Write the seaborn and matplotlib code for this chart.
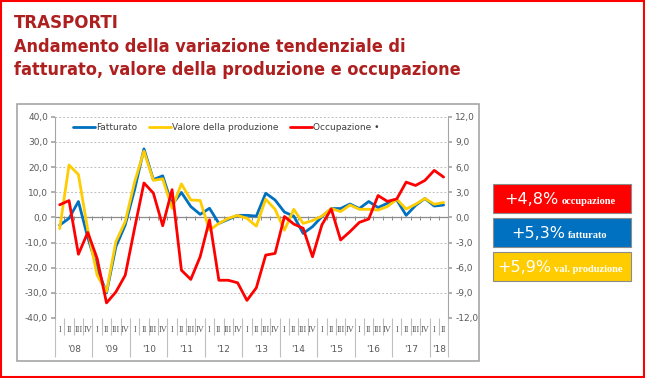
import numpy as np
import pandas as pd
import matplotlib
matplotlib.use("Agg")
import matplotlib.pyplot as plt
from matplotlib.patches import Rectangle
from matplotlib.transforms import blended_transform_factory
import seaborn as sns

# quarterly data, 2008 Q1 - 2018 Q2
years = ["'08", "'09", "'10", "'11", "'12", "'13", "'14", "'15", "'16", "'17", "'18"]
quarters = ["I", "II", "III", "IV"]

fatturato = [-3.1, -0.4, 6.3, -8.0, -20.0, -30.0, -11.7, -3.0, 11.0, 27.2, 15.0, 16.5,
             5.0, 9.9, 4.3, 1.2, 3.6, -2.4, -0.8, 0.8, 0.8, 0.5,
             9.6, 6.9, 2.1, 0.5, -6.4, -3.7, 0.3, 3.5, 3.5, 5.3,
             3.5, 6.3, 3.9, 5.6, 6.9, 0.8, 4.7, 7.5, 4.5, 4.9]
valore_prod = [-4.5, 20.8, 17.0, -5.0, -23.0, -29.5, -9.7, -1.7, 14.0, 26.3, 14.7, 15.3,
               3.6, 13.3, 6.9, 6.7, -5.1, -2.4, -0.4, 0.8, -0.4, -3.5,
               7.2, 3.2, -5.1, 3.2, -2.4, -1.3, 0.5, 3.5, 2.3, 4.9,
               3.2, 3.2, 2.9, 4.3, 7.2, 3.3, 5.2, 7.5, 5.2, 5.9]
occupazione = [1.5, 2.0, -4.4, -1.8, -4.9, -10.2, -8.9, -6.9, -1.3, 4.1, 2.9, -1.0,
               3.3, -6.3, -7.4, -4.7, -0.3, -7.5, -7.5, -7.8, -9.9, -8.4,
               -4.5, -4.3, 0.1, -0.8, -1.3, -4.7, -0.9, 1.0, -2.7, -1.7,
               -0.6, -0.2, 2.6, 1.9, 2.2, 4.2, 3.8, 4.4, 5.6, 4.8]

box_values = ["+4,8%", "+5,3%", "+5,9%"]
box_labels = ["occupazione", "fatturato", "val. produzione"]

n = len(fatturato)
df = pd.DataFrame({
    "idx": np.arange(n),
    "Fatturato": fatturato,
    "Valore della produzione": valore_prod,
    "Occupazione": occupazione,
})

sns.set_theme(style="white")
plt.rcParams["font.family"] = ["DejaVu Sans"]

blue = "#0070C0"
yellow = "#FFCC00"
red = "#FF0000"
grey_txt = "#595959"
title_col = "#AE2020"

fig = plt.figure(figsize=(6.45, 3.78), dpi=100)
ax = fig.add_axes([55 / 645, 60 / 378, 393.3 / 645, 201.3 / 378])
ax2 = ax.twinx()

sns.lineplot(data=df, x="idx", y="Fatturato", ax=ax, color=blue, lw=2.0, label="Fatturato", legend=False)
sns.lineplot(data=df, x="idx", y="Valore della produzione", ax=ax, color=yellow, lw=2.0,
             label="Valore della produzione", legend=False)
sns.lineplot(data=df, x="idx", y="Occupazione", ax=ax2, color=red, lw=2.0,
             label="Occupazione \u2022", legend=False)

ax.set_xlim(-0.5, n - 0.5)
ax.set_ylim(-40, 40)
ax2.set_ylim(-12, 12)
ax.set_xlabel("")
ax.set_ylabel("")
ax2.set_ylabel("")

fmt = lambda v: f"{v:.1f}".replace(".", ",")
lt = np.arange(-40, 41, 10)
ax.set_yticks(lt)
ax.set_yticklabels([fmt(v) for v in lt], fontsize=6.5, color=grey_txt)
rt = np.arange(-12, 13, 3)
ax2.set_yticks(rt)
ax2.set_yticklabels([fmt(v) for v in rt], fontsize=6.5, color=grey_txt)
ax.tick_params(axis="y", length=3, color="#A6A6A6", pad=2, left=True)
ax2.tick_params(axis="y", length=3, color="#A6A6A6", pad=2, right=True)

# gridlines
for v in lt:
    if v != 0:
        ax.axhline(v, color="#BFBFBF", lw=0.7, ls=(0, (2, 2)), zorder=0)
ax.axhline(0, color="#8C8C8C", lw=0.9, zorder=1)
bounds = np.arange(-0.5, n, 1)
ax.vlines(bounds, -1.2, 0.6, color="#8C8C8C", lw=0.7, zorder=1)

for a in (ax, ax2):
    for s in ("top", "bottom", "left", "right"):
        a.spines[s].set_visible(False)
ax.spines["left"].set_visible(True)
ax.spines["left"].set_color("#A6A6A6")
ax.spines["left"].set_linewidth(0.8)
ax2.spines["right"].set_visible(True)
ax2.spines["right"].set_color("#A6A6A6")
ax2.spines["right"].set_linewidth(0.8)

# category axis: quarter separators and year separators
year_bounds = [-0.5] + [3.5 + 4 * k for k in range(len(years) - 1)] + [n - 0.5]
ax.set_xticks(year_bounds)
ax.set_xticklabels([])
ax.set_xticks(bounds, minor=True)
ax.tick_params(axis="x", which="major", length=28, color="#BFBFBF", width=0.8, bottom=True)
ax.tick_params(axis="x", which="minor", length=12, color="#BFBFBF", width=0.8, bottom=True)

trans = blended_transform_factory(ax.transData, ax.transAxes)
for i in range(n):
    ax.text(i, -0.058, quarters[i % 4], transform=trans, ha="center", va="center",
            fontsize=6, color=grey_txt, family=["Liberation Serif", "DejaVu Serif"])
for k, y in enumerate(years):
    lo = year_bounds[k]
    hi = year_bounds[k + 1]
    ax.text((lo + hi) / 2, -0.155, y, transform=trans, ha="center", va="center",
            fontsize=6.5, color=grey_txt)

# legend
h1, l1 = ax.get_legend_handles_labels()
h2, l2 = ax2.get_legend_handles_labels()
leg = ax2.legend(h1 + h2, l1 + l2, loc="upper left", bbox_to_anchor=(0.03, 1.0), ncol=3,
                 frameon=False, fontsize=6.5, handlelength=2.4, handletextpad=0.15,
                 columnspacing=1.3, borderaxespad=0.3)
for t in leg.get_texts():
    t.set_color("#404040")

# title
title_font = dict(fontweight="bold", color=title_col, va="baseline", family="DejaVu Sans",
                  fontstretch="condensed")
fig.text(14 / 645, 1 - 28 / 378, "TRASPORTI", fontsize=13.3, **title_font)
fig.text(14 / 645, 1 - 52 / 378, "Andamento della variazione tendenziale di", fontsize=13,
         **title_font)
fig.text(14 / 645, 1 - 75 / 378, "fatturato, valore della produzione e occupazione", fontsize=13,
         **title_font)

# frames
fig.patches.append(Rectangle((16.5 / 645, 1 - 361 / 378), 462 / 645, 257 / 378,
                             transform=fig.transFigure, fill=False, ec="#A6A6A6", lw=1.2))
fig.patches.append(Rectangle((0.001, 0.002), 0.997, 0.996, transform=fig.transFigure,
                             fill=False, ec=red, lw=1.5))

# summary boxes
box_cols = [red, blue, yellow]
box_top = [184.3, 218.3, 252.3]
box_split = [559, 565, 551]
for k in range(3):
    fig.patches.append(Rectangle((493 / 645, 1 - (box_top[k] + 29) / 378), 138 / 645, 29 / 378,
                                 transform=fig.transFigure, fc=box_cols[k], ec="#8C8C8C", lw=0.8))
    base = 1 - (box_top[k] + 20) / 378
    fig.text(box_split[k] / 645, base, box_values[k], fontsize=11.5, color="white",
             ha="right", va="baseline")
    fig.text((box_split[k] + 3) / 645, base, box_labels[k], fontsize=7.5, color="white",
             ha="left", va="baseline", fontweight="bold",
             family=["Liberation Serif", "DejaVu Serif"])

fig.savefig("out.png", dpi=100)
